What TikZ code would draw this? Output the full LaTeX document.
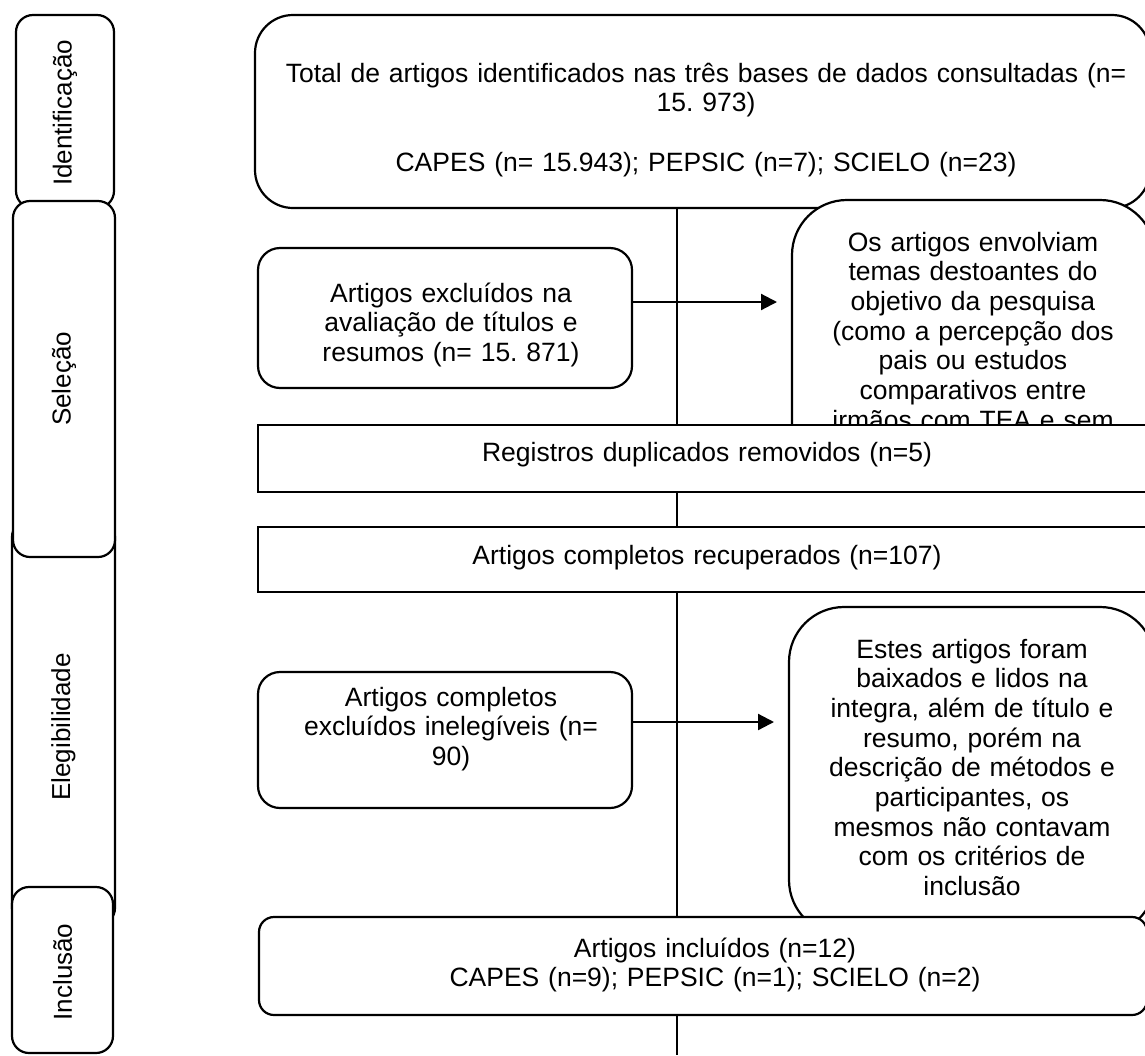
\documentclass[tikz,border=0pt]{standalone}
\usepackage{fontspec}
\setmainfont{Liberation Sans}
\usetikzlibrary{arrows.meta}
\frenchspacing
\begin{document}
\begin{tikzpicture}[x=1pt,y=-1pt,
  lw/.style={line width=2.2pt},
  frame/.style={draw, lw, fill=white, inner sep=0pt, outer sep=0pt},
  lane/.style={frame, rounded corners=17pt},
  txt/.style={inner sep=0pt, font=\fontsize{26.5}{29.7}\selectfont\frenchspacing, text width=#1, align=center, anchor=base},
  txt/.default=880pt,
  lanetxt/.style={inner sep=0pt, font=\fontsize{26}{29}\selectfont, rotate=90},
  arr/.style={lw, -{Triangle[length=16pt,width=16pt]}, shorten >=15pt}
]
\useasboundingbox (0,0) rectangle (1145,1055);
\clip (0,0) rectangle (1145,1055);

% main vertical flow line
\coordinate (vtop) at (677,208);
\coordinate (vbot) at (677,1055);
\draw[lw] (vtop) -- (vbot);

% left lanes
\node[lane, minimum width=103pt, minimum height=405pt] (eleg) at (63.5,722.5) {};
\node[lane, minimum width=98pt, minimum height=193pt] (ident) at (65,111.5) {};
\node[lane, minimum width=102pt, minimum height=356pt] (selec) at (64,379) {};
\node[lane, minimum width=101pt, minimum height=166pt] (incl) at (62.5,970) {};
\node[lanetxt] (identt) at (65,113) {Identificação};
\node[lanetxt] (select) at (64,379) {Seleção};
\node[lanetxt] (elegt) at (63.5,727) {Elegibilidade};
\node[lanetxt] (inclt) at (62.5,972) {Inclusão};

% top box
\node[frame, rounded corners=38pt, minimum width=895pt, minimum height=193pt] (top) at (702.5,111.5) {};
\node[txt] (topt) at (706,82) {Total de artigos identificados nas três bases de dados consultadas (n=\\15. 973)\\[29.7pt]CAPES (n= 15.943); PEPSIC (n=7); SCIELO (n=23)};

% first exclusion reason
\node[frame, rounded corners=55pt, minimum width=363pt, minimum height=280pt] (oart) at (973.5,340) {};
\node[txt=360pt] (oartt) at (973,251) {Os artigos envolviam\\temas destoantes do\\objetivo da pesquisa\\(como a percepção dos\\pais ou estudos\\comparativos entre\\irmãos com TEA e sem};

% first exclusion
\node[frame, rounded corners=22pt, minimum width=374pt, minimum height=140pt] (excl1) at (445,318) {};
\node[txt=370pt] (excl1t) at (451,302) {Artigos excluídos na\\avaliação de títulos e\\resumos (n= 15. 871)};
\coordinate (a1) at (0,302);
\draw[arr] (excl1.east |- a1) -- (oart.west |- a1);

% duplicates
\node[frame, minimum width=898pt, minimum height=67pt] (reg) at (707,458.5) {};
\node[txt] (regt) at (707,461) {Registros duplicados removidos (n=5)};

% full texts
\node[frame, minimum width=898pt, minimum height=65pt] (rec) at (707,559.5) {};
\node[txt] (rect) at (707,564) {Artigos completos recuperados (n=107)};

% second exclusion reason
\node[frame, rounded corners=55pt, minimum width=366pt, minimum height=328pt] (estes) at (972,771) {};
\node[txt=360pt] (estest) at (972,658) {Estes artigos foram\\baixados e lidos na\\integra, além de título e\\resumo, porém na\\descrição de métodos e\\participantes, os\\mesmos não contavam\\com os critérios de\\inclusão};

% second exclusion
\node[frame, rounded corners=22pt, minimum width=374pt, minimum height=136pt] (excl2) at (445,740) {};
\node[txt=370pt] (excl2t) at (451,706) {Artigos completos\\excluídos inelegíveis (n=\\90)};
\coordinate (a2) at (0,722);
\draw[arr] (excl2.east |- a2) -- (estes.west |- a2);

% included
\node[frame, rounded corners=15pt, minimum width=888pt, minimum height=98pt] (inclm) at (703,966) {};
\node[txt] (inclmt) at (715,957) {Artigos incluídos (n=12)\\CAPES (n=9); PEPSIC (n=1); SCIELO (n=2)};
\end{tikzpicture}
\end{document}
